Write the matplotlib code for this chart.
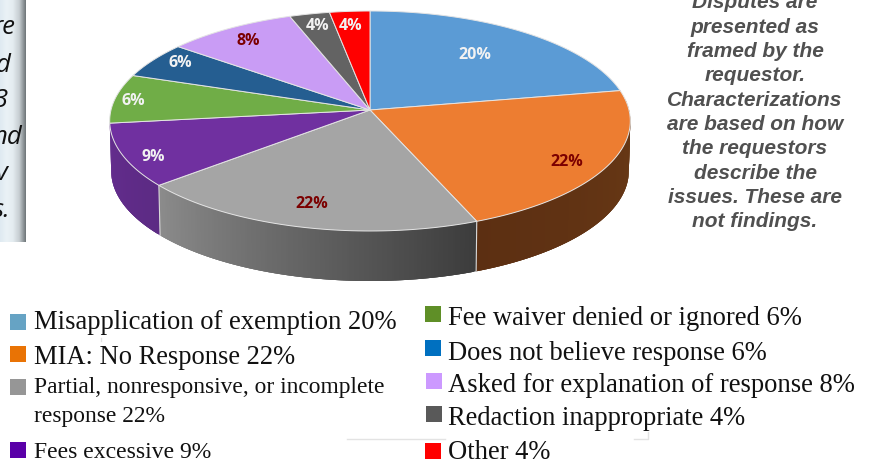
import numpy as np
import matplotlib
matplotlib.use("Agg")
import matplotlib.pyplot as plt
from matplotlib.colors import to_rgb, LinearSegmentedColormap

# wedge shares as they are drawn in the picture, labels as printed on it
slice_shares = [22.1, 21.8, 19.9, 9.3, 7.2, 5.3, 8.9, 2.75, 2.75]
slice_labels = ["20%", "22%", "22%", "9%", "6%", "6%", "8%", "4%", "4%"]
slice_colors = ["#5b9bd5", "#ed7d31", "#a5a5a5", "#7030a0", "#70ad47",
                "#255e91", "#c99cf5", "#636363", "#ff0000"]
label_colors = ["#f2f2f2", "#7b0000", "#7b0000", "#f2f2f2", "#f2f2f2",
                "#f2f2f2", "#7b0000", "#f2f2f2", "#f2f2f2"]
label_x = [475, 567, 312, 153, 133, 180, 248, 318, 351]
label_y = [55, 162, 204, 157, 101, 63, 41, 26, 26]

# side wall colours, start and end of each front slice (clockwise)
side_from = {0: "#6e3c17", 1: "#6a3a16", 2: "#3c3c3c", 3: "#5c2b84"}
side_to = {0: "#6e3c17", 1: "#5c2f12", 2: "#8c8c8c", 3: "#642c8e"}

legend_names = ["Misapplication of exemption 20%", "MIA: No Response 22%",
                "Partial, nonresponsive, or incomplete\nresponse 22%", "Fees excessive 9%",
                "Fee waiver denied or ignored 6%", "Does not believe response 6%",
                "Asked for explanation of response 8%", "Redaction inappropriate 4%", "Other 4%"]
legend_colors = ["#66a3c4", "#e97305", "#969696", "#5a00a8", "#5f8f27",
                 "#0070c0", "#cc99ff", "#595959", "#ff0000"]
legend_sizes = [19.2, 19.1, 16.9, 17, 19.2, 19.1, 19.2, 19.1, 19.1]

note_lines = ["Disputes are", "presented as", "framed by the", "requestor.",
              "Characterizations", "are based on how", "the requestors",
              "describe the", "issues. These are", "not findings."]
cut_words = ["re", "d", "3", "nd", "v", "s."]
cut_right = [15, 11, 8, 22, 8, 10]
cut_y = [28, 65, 100, 137, 173, 210]

fig = plt.figure(figsize=(8.71, 4.61), dpi=100)
ax = fig.add_axes([0, 0, 1, 1])
ax.set_xlim(0, 871)
ax.set_ylim(461, 0)
ax.axis("off")

# pie projection: disc seen in perspective, hub at (370, 110)
CX, CY = 370, 110
DEPTH = 50


def project(deg, r=1.0):
    a = np.radians(deg)
    u, v = r * np.sin(a), r * np.cos(a)
    d = 1 + 0.1 * v
    return CX + 259 * u / d, CY - 108.9 * v / d


edges = np.cumsum([0] + slice_shares) * 3.6

# side walls first, each strip overlaps the next so no seams show
for i in side_from:
    t1 = max(edges[i], 84)
    t2 = edges[i + 1]
    angs = np.arange(t1, t2, 0.5)
    c1, c2 = np.array(to_rgb(side_from[i])), np.array(to_rgb(side_to[i]))
    for a0 in angs:
        a1 = min(a0 + 1.5, t2)
        x0, y0 = project(a0)
        x1, y1 = project(a1)
        f = (a0 - t1) / (t2 - t1)
        col = c1 + (c2 - c1) * f
        ax.fill([x0, x1, x1 - 1.5 * (x1 - CX) / 260, x0 - 1.5 * (x0 - CX) / 260],
                [y0, y1, y1 + DEPTH, y0 + DEPTH], color=col, lw=0, zorder=2)
    bx, by = project(t2)
    if i < 3:
        ax.plot([bx, bx - 1.5 * (bx - CX) / 260], [by, by + DEPTH], color="#d9d9d9", lw=0.8, zorder=3)

# top face
for i, col in enumerate(slice_colors):
    angs = np.linspace(edges[i], edges[i + 1], 60)
    xs, ys = project(angs)
    ax.fill(np.r_[CX, xs], np.r_[CY, ys], facecolor=col, edgecolor="#e4e4e4", lw=0.7, zorder=4)
    ax.text(label_x[i], label_y[i], slice_labels[i], color=label_colors[i], ha="center", va="center",
            fontsize=11.5, fontweight="bold", family="Open Sans", zorder=5)

# left panel, cut off by the crop
gray_map = LinearSegmentedColormap.from_list("panel", ["#dfeaf1", "#eaf2f6", "#e4ecf0", "#c6cdd1", "#6f7679"])
ax.imshow(np.linspace(0, 1, 64).reshape(1, -1), cmap=gray_map, extent=[0, 25, 242, 0], aspect="auto", zorder=1)
ax.set_xlim(0, 871)
ax.set_ylim(461, 0)
for word, x, y in zip(cut_words, cut_right, cut_y):
    ax.text(x, y, word, ha="right", va="center", fontsize=18.5, style="italic", family="Open Sans",
            color="#111111", zorder=3)

# note on the right
for n, line in enumerate(note_lines):
    ax.text(755, 3 + n * 24.3, line, ha="center", va="center", fontsize=15, style="italic",
            fontweight="bold", family="Liberation Sans", color="#505050", zorder=3)

# legend
swatch_x = [10, 10, 10, 10, 425, 425, 426, 426, 425]
swatch_y = [314, 346, 379, 442, 306, 340, 373, 406, 443]
text_y = [329, 364, 393, 458, 325, 360, 392, 425, 459]
for i, name in enumerate(legend_names):
    ax.fill([swatch_x[i], swatch_x[i] + 16, swatch_x[i] + 16, swatch_x[i]],
            [swatch_y[i], swatch_y[i], swatch_y[i] + 16, swatch_y[i] + 16], color=legend_colors[i], lw=0, zorder=3)
    tx = 34 if i < 4 else 448
    if "\n" in name:
        first, second = name.split("\n")
        ax.text(tx, text_y[i], first, fontsize=legend_sizes[i], family="Liberation Serif", color="#111111", va="baseline")
        ax.text(tx, text_y[i] + 29, second, fontsize=legend_sizes[i], family="Liberation Serif", color="#111111", va="baseline")
    else:
        ax.text(tx, text_y[i], name, fontsize=legend_sizes[i], family="Liberation Serif", color="#111111", va="baseline")

# faint leftovers of a selection box
ax.plot([347, 445], [439, 439], color="#e3e3e3", lw=1)
ax.plot([634, 648, 648], [439, 439, 432], color="#e3e3e3", lw=1)
ax.plot([101, 101], [338, 341], color="#e3e3e3", lw=1)

fig.savefig("out.png", dpi=100)
